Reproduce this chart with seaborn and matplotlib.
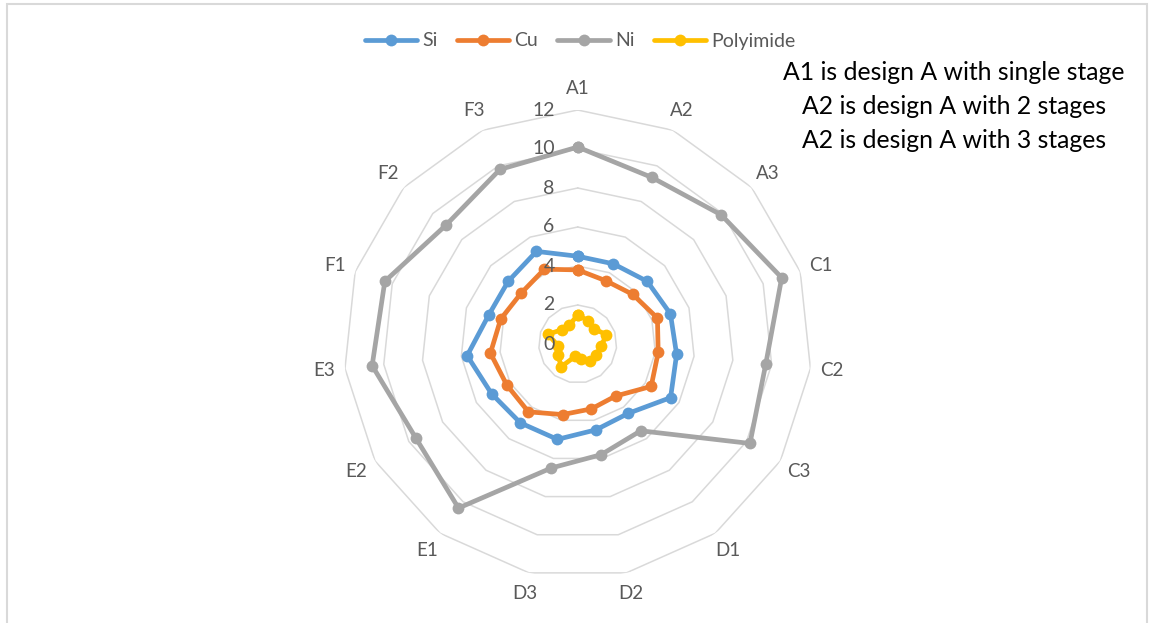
import numpy as np
import pandas as pd
import matplotlib
matplotlib.use("Agg")
import matplotlib.pyplot as plt
from matplotlib.patches import Rectangle
from matplotlib.lines import Line2D
import matplotlib.transforms as mtransforms
import seaborn as sns

categories = ["A1", "A2", "A3", "C1", "C2", "C3", "D1", "D2", "D3",
              "E1", "E2", "E3", "F1", "F2", "F3"]
si = [4.5, 4.5, 4.8, 5.0, 5.1, 5.5, 4.4, 4.5, 5.0, 5.0, 5.1, 5.7, 4.8, 4.8, 5.2]
cu = [3.8, 3.55, 3.8, 4.3, 4.15, 4.35, 3.3, 3.4, 3.7, 4.3, 4.2, 4.5, 4.15, 3.9, 4.2]
ni = [10.1, 9.35, 9.9, 11.0, 9.7, 10.2, 5.5, 5.8, 6.5, 10.4, 9.6, 10.6, 10.4, 9.1, 9.8]
polyimide = [1.5, 1.3, 1.15, 1.55, 1.2, 1.1, 1.1, 0.8, 0.65, 1.45, 1.15, 1.0, 1.6, 1.1, 1.05]
series_names = ["Si", "Cu", "Ni", "Polyimide"]
series_colors = ["#5B9BD5", "#ED7D31", "#A5A5A5", "#FFC000"]
ring_values = [0, 2, 4, 6, 8, 10, 12]
notes = ["A1 is design A with single stage",
         "A2 is design A with 2 stages",
         "A2 is design A with 3 stages"]

sns.set_theme(style="white")
plt.rcParams["font.family"] = ["Lato", "DejaVu Sans"]

W, H = 1152, 623
fig = plt.figure(figsize=(W / 100, H / 100), dpi=100)

# light frame around the chart area
fig.patches.append(Rectangle((7 / W, -0.05), 1140 / W, 1.05 - 4 / H,
                             transform=fig.transFigure, fill=False,
                             edgecolor="#D9D9D9", linewidth=1.5))

cx, cy, R = 577.7, 344.0, 234.0
ax = fig.add_axes([(cx - R) / W, (H - cy - R) / H, 2 * R / W, 2 * R / H],
                  projection="polar")
ax.set_theta_zero_location("N")
ax.set_theta_direction(-1)
ax.grid(False)
ax.spines["polar"].set_visible(False)
ax.set_xticks([])
ax.set_yticks([])
ax.set_facecolor("none")

n = len(categories)
theta = np.linspace(0, 2 * np.pi, n, endpoint=False)
theta_closed = np.append(theta, 2 * np.pi)

# polygonal gridlines
for v in ring_values[1:]:
    ax.plot(theta_closed, [v] * (n + 1), color="#D9D9D9", lw=1.1, zorder=1)

# data series, each closed back onto its first category
rows = []
for name, vals in zip(series_names, [si, cu, ni, polyimide]):
    closed = list(vals) + [vals[0]]
    for t, v in zip(theta_closed, closed):
        rows.append({"theta": t, "value": v, "series": name})
df = pd.DataFrame(rows)

sns.lineplot(data=df, x="theta", y="value", hue="series", hue_order=series_names,
             palette=series_colors, sort=False, estimator=None, marker="o",
             markersize=8.5, markeredgewidth=0, linewidth=3.4, ax=ax, legend=False)
ax.set_xlabel("")
ax.set_ylabel("")
ax.set_ylim(0, 12)

# radial value labels, just left of the A1 axis
label_offset = mtransforms.offset_copy(ax.transData, fig=fig, x=-23, y=0, units="dots")
for v in ring_values:
    ax.text(0, v, str(v), transform=label_offset, ha="right", va="center",
            fontsize=14, color="#595959")

# category labels
for t, c in zip(theta, categories):
    ax.text(t, 13.1, c, ha="center", va="center", fontsize=13.5,
            color="#595959", clip_on=False)

# legend
handles = [Line2D([0], [0], color=c, lw=3.4, marker="o", markersize=8.5,
                  markeredgewidth=0) for c in series_colors]
fig.legend(handles, series_names, loc="center", bbox_to_anchor=(580 / W, 1 - 41 / H),
           ncol=4, frameon=False, fontsize=14, handlelength=2.7,
           columnspacing=1.0, handletextpad=0.25, labelcolor="#595959")

# notes
for i, line in enumerate(notes):
    fig.text(954 / W, 1 - (73 + 34 * i) / H, line, ha="center", va="center",
             fontsize=17.8, color="black")

fig.savefig("out.png", dpi=100, facecolor="white")
